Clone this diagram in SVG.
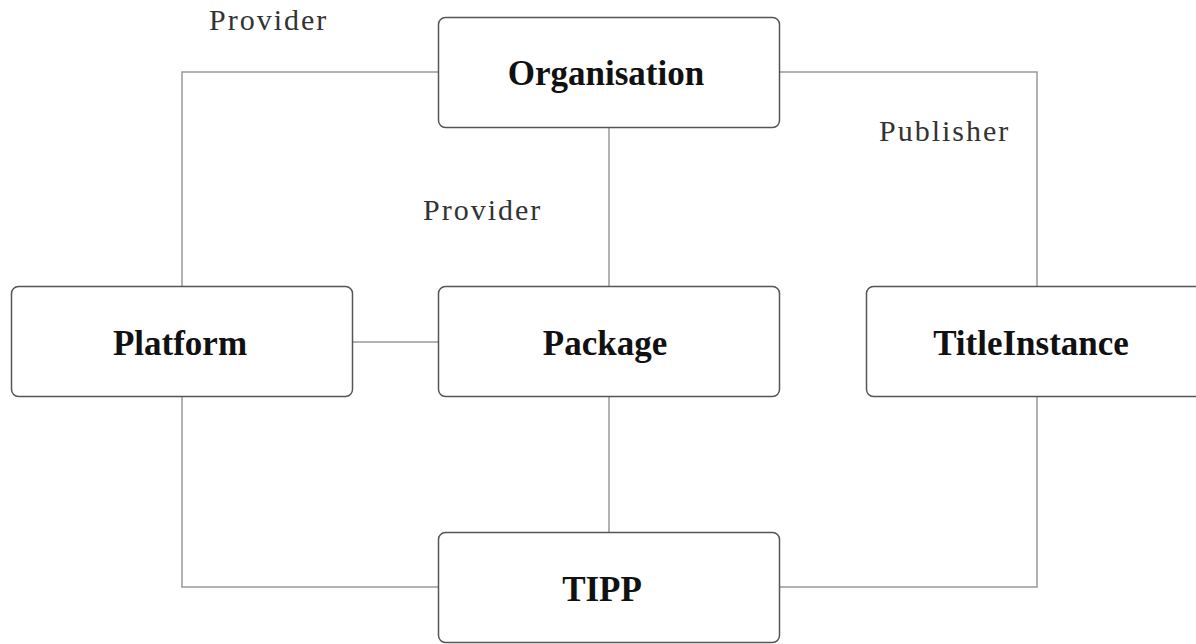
<svg xmlns="http://www.w3.org/2000/svg" width="1196" height="644" viewBox="0 0 1196 644">
<style>
.box{fill:#fff;stroke:#555;stroke-width:1.5}
.name{font-family:"Liberation Serif",serif;font-weight:bold;font-size:35px;fill:#111;text-anchor:middle}
.lbl{font-family:"Liberation Serif",serif;font-size:30px;fill:#333;letter-spacing:2px}
.con{fill:none;stroke:#999;stroke-width:1.5}
</style>
<rect width="1196" height="644" fill="#fff"/>
<g id="connectors">
<polyline class="con" points="438,72 182,72 182,287"/>
<polyline class="con" points="780,72 1037,72 1037,287"/>
<line class="con" x1="609" y1="128" x2="609" y2="287"/>
<line class="con" x1="353" y1="342" x2="438" y2="342"/>
<polyline class="con" points="182,397 182,587 438,587"/>
<line class="con" x1="609" y1="397" x2="609" y2="533"/>
<polyline class="con" points="1037,397 1037,587 780,587"/>
<text class="lbl" x="209" y="30">Provider</text>
<text class="lbl" x="423" y="220">Provider</text>
<text class="lbl" x="879" y="141">Publisher</text>
</g>
<g id="organisation">
<rect class="box" x="438.5" y="17.5" width="341" height="110" rx="7"/>
<text class="name" x="606" y="85">Organisation</text>
</g>
<g id="platform">
<rect class="box" x="11.5" y="286.5" width="341" height="110" rx="7"/>
<text class="name" x="180" y="355">Platform</text>
</g>
<g id="package">
<rect class="box" x="438.5" y="286.5" width="341" height="110" rx="7"/>
<text class="name" x="605" y="355">Package</text>
</g>
<g id="titleinstance">
<rect class="box" x="866.5" y="286.5" width="341" height="110" rx="7"/>
<text class="name" x="1031" y="355">TitleInstance</text>
</g>
<g id="tipp">
<rect class="box" x="438.5" y="532.5" width="341" height="110" rx="7"/>
<text class="name" x="602" y="601">TIPP</text>
</g>
</svg>
